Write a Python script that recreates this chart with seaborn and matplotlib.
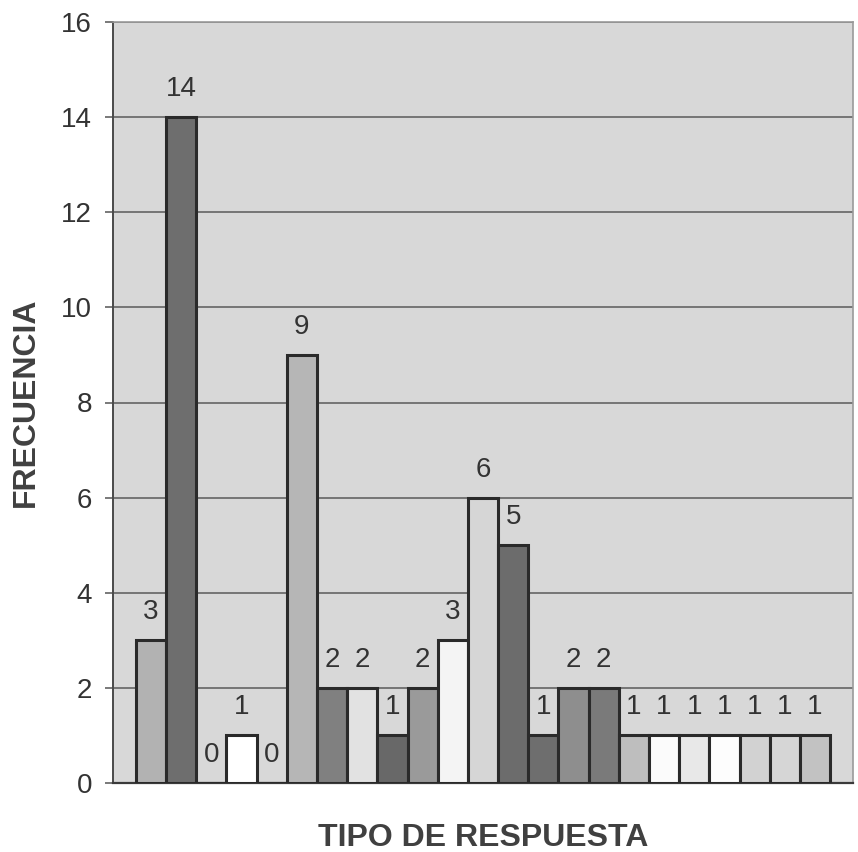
import matplotlib
matplotlib.use("Agg")
import matplotlib.pyplot as plt
import seaborn as sns
import pandas as pd

# Response types (one bar per type) and their frequencies
tipos = [f"R{i:02d}" for i in range(1, 24)]
frecuencias = [3, 14, 0, 1, 0, 9, 2, 2, 1, 2, 3, 6, 5, 1, 2, 2, 1, 1, 1, 1, 1, 1, 1]
grises = ["#b2b2b2", "#6e6e6e", "#c8c8c8", "#ffffff", "#c8c8c8", "#b6b6b6",
          "#808080", "#e2e2e2", "#686868", "#9a9a9a", "#f4f4f4", "#d6d6d6",
          "#6c6c6c", "#6e6e6e", "#8e8e8e", "#7a7a7a", "#bebebe", "#fbfbfb",
          "#e8e8e8", "#fdfdfd", "#d2d2d2", "#d6d6d6", "#c2c2c2"]
y_ticks = [0, 2, 4, 6, 8, 10, 12, 14, 16]

df = pd.DataFrame({"tipo": tipos, "frecuencia": frecuencias})

sns.set_theme(style="white")
plt.rcParams["font.family"] = ["Liberation Sans", "DejaVu Sans"]

fig = plt.figure(figsize=(8.58, 8.52), dpi=100)
ax = fig.add_axes([113 / 858, 69 / 852, 740 / 858, 761 / 852])
ax.set_facecolor("#d8d8d8")

sns.barplot(data=df, x="tipo", y="frecuencia", hue="tipo", order=tipos,
            palette=dict(zip(tipos, grises)), legend=False, width=1.0,
            edgecolor="#2a2a2a", linewidth=2.2, saturation=1, ax=ax, zorder=3)

# Value labels above each bar
for i, v in enumerate(frecuencias):
    ax.annotate(str(v), xy=(i, v), xytext=(0, 21), textcoords="offset pixels",
                ha="center", va="baseline", fontsize=20, color="#333333",
                zorder=4)

ax.set_xlim(-1.26, 23.26)
ax.set_ylim(0, 16)
ax.set_yticks(y_ticks)
ax.set_yticklabels([str(t) for t in y_ticks], fontsize=20, color="#333333")
ax.set_xticks([])
ax.yaxis.grid(True, color="#5a5a5a", linewidth=1.1, zorder=1)
ax.set_axisbelow(True)
ax.tick_params(axis="y", which="major", direction="out", length=6, width=1.1,
               color="#555555", left=True, pad=9)

for side in ["top", "right"]:
    ax.spines[side].set_color("#9a9a9a")
    ax.spines[side].set_linewidth(1.2)
ax.spines["left"].set_color("#4a4a4a")
ax.spines["left"].set_linewidth(1.4)
ax.spines["bottom"].set_color("#3a3a3a")
ax.spines["bottom"].set_linewidth(1.6)

ax.set_xlabel("TIPO DE RESPUESTA", fontsize=23, fontweight="bold",
              color="#404040", labelpad=29)
ax.set_ylabel("FRECUENCIA", fontsize=23, fontweight="bold", color="#404040")
ax.yaxis.set_label_coords(-0.097, 0.5)

fig.savefig("out.png", dpi=100, facecolor="white")
